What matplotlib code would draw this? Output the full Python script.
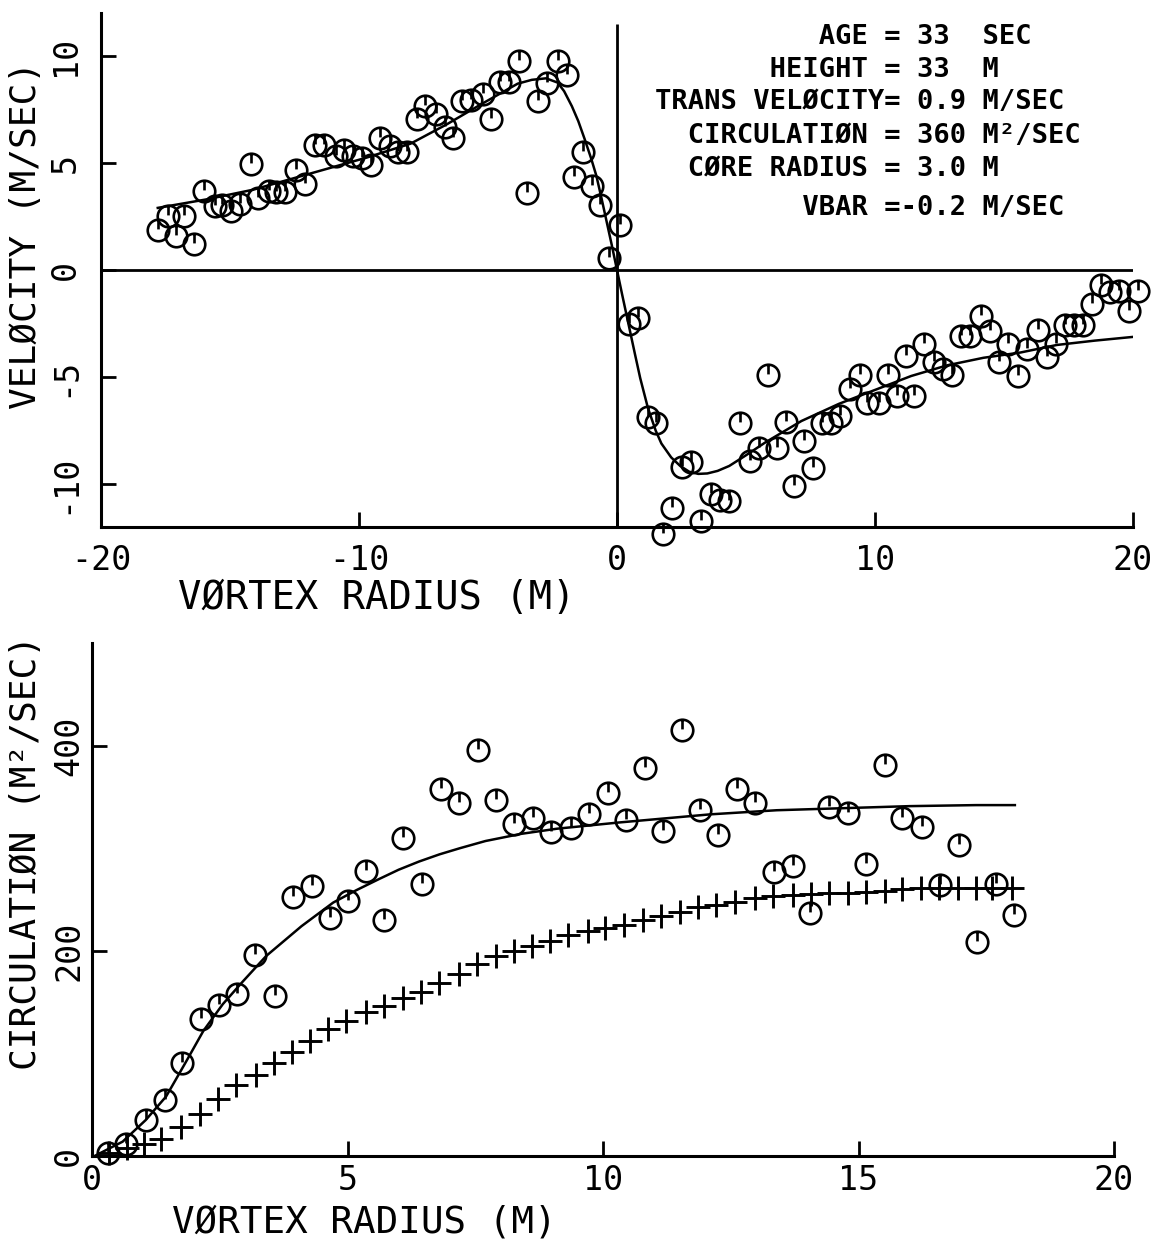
import numpy as np
import matplotlib
matplotlib.use("Agg")
import matplotlib.pyplot as plt
from matplotlib.path import Path

# ---- top panel: tangential velocity across the vortex ----
vel_radius = [-17.8, -17.4, -17.1, -16.8, -16.4, -16.0, -15.6, -15.3, -14.95, -14.6,
              -14.2, -13.9, -13.5, -13.2, -12.85, -12.45, -12.1, -11.7, -11.35, -10.9,
              -10.6, -10.25, -9.9, -9.55, -9.2, -8.8, -8.5, -8.15, -7.75, -7.45,
              -7.0, -6.65, -6.35, -6.0, -5.65, -5.2, -4.9, -4.55, -4.2, -3.8,
              -3.5, -3.05, -2.7, -2.3, -1.95, -1.65, -1.3, -0.95, -0.65, -0.3,
              0.1, 0.45, 0.8, 1.2, 1.5, 1.8, 2.15, 2.5, 2.85, 3.25,
              3.65, 4.0, 4.35, 4.75, 5.15, 5.5, 5.85, 6.2, 6.55, 6.85,
              7.25, 7.6, 7.95, 8.3, 8.65, 9.05, 9.4, 9.7, 10.15, 10.5,
              10.85, 11.5, 11.2, 11.9, 12.3, 12.65, 13.0, 13.35, 13.7, 14.1,
              14.45, 14.8, 15.15, 15.55, 15.9, 16.3, 16.65, 17.0, 17.35, 17.7,
              18.05, 18.4, 18.75, 19.1, 19.45, 19.85, 20.2]
vel_speed = [1.85, 2.5, 1.6, 2.5, 1.2, 3.7, 3.0, 3.05, 2.75, 3.1,
             4.95, 3.35, 3.7, 3.65, 3.65, 4.65, 4.0, 5.85, 5.85, 5.3,
             5.6, 5.3, 5.25, 4.9, 6.15, 5.8, 5.5, 5.5, 7.05, 7.65,
             7.3, 6.7, 6.15, 7.9, 7.95, 8.2, 7.05, 8.8, 8.8, 9.75,
             3.6, 7.9, 8.75, 9.75, 9.1, 4.35, 5.5, 3.9, 3.05, 0.55,
             2.1, -2.5, -2.25, -6.85, -7.15, -12.35, -11.1, -9.2, -8.95, -11.7,
             -10.45, -10.75, -10.8, -7.15, -8.9, -8.3, -4.9, -8.3, -7.1, -10.1,
             -8.0, -9.25, -7.15, -7.15, -6.8, -5.55, -4.9, -6.2, -6.2, -4.9,
             -5.9, -5.9, -4.0, -3.45, -4.3, -4.6, -4.9, -3.1, -3.1, -2.15,
             -2.85, -4.3, -3.45, -4.95, -3.7, -2.8, -4.05, -3.45, -2.55, -2.55,
             -2.55, -1.6, -0.7, -1.05, -1.0, -1.9, -1.0]
vel_fit_radius = [-17.8, -15.9, -14.1, -11.9, -9.7, -8.0, -6.6, -5.25, -3.85, -3.3,
                  -2.75, -2.3, -2.05, -1.75, -1.5, -1.25, -1.0, -0.8, -0.6, -0.4,
                  -0.2, 0.0, 0.2, 0.45, 0.7, 0.9, 1.2, 1.5, 1.72, 2.1,
                  2.45, 2.8, 3.15, 3.5, 3.9, 4.35, 5.0, 5.75, 7.15, 8.6,
                  10.0, 11.4, 12.8, 14.2, 15.65, 17.05, 18.5, 20.2]
vel_fit_speed = [2.9, 3.3, 3.75, 4.5, 5.25, 5.9, 6.8, 7.75, 8.7, 8.88,
                 8.95, 8.75, 8.35, 7.65, 6.95, 6.1, 5.2, 4.4, 3.35, 2.25,
                 1.15, 0.0, -1.15, -2.55, -3.95, -5.05, -6.45, -7.5, -8.1, -8.75,
                 -9.15, -9.42, -9.52, -9.5, -9.38, -9.15, -8.65, -8.05, -7.05, -6.25,
                 -5.6, -4.95, -4.45, -4.1, -3.85, -3.5, -3.3, -3.1]

# ---- bottom panel: circulation vs radius ----
circ_radius = [0.32, 0.67, 1.06, 1.42, 1.77, 2.13, 2.48, 2.84, 3.19, 3.59,
               3.93, 4.31, 4.65, 5.01, 5.37, 5.72, 6.09, 6.46, 6.83, 7.19,
               7.55, 7.90, 8.26, 8.63, 8.99, 9.38, 9.73, 10.10, 10.45, 10.83,
               11.17, 11.55, 11.89, 12.26, 12.62, 12.98, 13.34, 13.71, 14.06, 14.42,
               14.80, 15.14, 15.51, 15.86, 16.24, 16.59, 16.96, 17.32, 17.69, 18.05]
circ_value = [3, 12, 35, 55, 91, 134, 147, 158, 196, 156,
              252, 263, 232, 249, 278, 230, 310, 265, 358, 344,
              396, 347, 324, 329, 316, 320, 333, 354, 327, 378,
              317, 415, 337, 313, 358, 344, 277, 283, 237, 340,
              334, 285, 381, 329, 321, 264, 303, 209, 265, 235]
cross_radius = [0.33, 0.68, 1.01, 1.36, 1.75, 2.11, 2.46, 2.82, 3.20, 3.56,
                3.92, 4.27, 4.62, 4.97, 5.36, 5.71, 6.08, 6.44, 6.79, 7.18,
                7.54, 7.90, 8.26, 8.61, 8.97, 9.32, 9.71, 10.04, 10.42, 10.79,
                11.14, 11.50, 11.86, 12.22, 12.58, 12.97, 13.32, 13.71, 14.07, 14.43,
                14.79, 15.15, 15.51, 15.86, 16.22, 16.58, 16.94, 17.30, 17.62, 18.01]
cross_value = [3, 8, 11.5, 16.5, 28, 41, 56, 69, 79, 91,
               101, 112, 124, 132, 140, 146, 154, 160, 169, 177,
               187, 195, 200, 205, 210, 215, 219, 222, 225.5, 230.5,
               234, 237.5, 242.5, 244.5, 247.5, 251, 253.5, 254.5, 255, 256,
               256.5, 257.5, 258.5, 260.5, 261, 261, 261, 261, 261.5, 261.5]
circ_fit_radius = [0.05, 0.6, 1.05, 1.45, 1.83, 2.18, 2.56, 2.95, 3.41, 4.10,
                   4.72, 5.17, 5.62, 6.0, 6.4, 6.8, 7.2, 7.7, 8.4, 9.1,
                   10.3, 12.1, 13.4, 14.7, 16.0, 17.3, 18.06]
circ_fit_value = [0, 14, 35, 58, 91, 122, 148, 170, 195, 224,
                  247, 259, 270, 279, 287, 294, 300, 307, 314, 319,
                  325, 333, 337, 339, 341, 342, 342]

info_lines = ["          AGE = 33  SEC",
              "       HEIGHT = 33  M",
              "TRANS VEL\u00d8CITY= 0.9 M/SEC",
              "  CIRCULATI\u00d8N = 360 M\u00b2/SEC",
              "  C\u00d8RE RADIUS = 3.0 M",
              "         VBAR =-0.2 M/SEC"]
info_y = [37, 70, 102, 136, 169, 208]

W, H = 1153, 1244
plt.rcParams["font.family"] = "DejaVu Sans Mono"
plt.rcParams["axes.unicode_minus"] = False

fig = plt.figure(figsize=(W / 100, H / 100), dpi=100)


def px(x, y):
    return x / W, 1 - y / H


# circle with a little tick from the top, like the old plotter symbol
uc = Path.unit_circle()
tick_circle = Path(np.concatenate([uc.vertices, [[0, 1], [0, 0.1]]]),
                   np.concatenate([uc.codes, [Path.MOVETO, Path.LINETO]]))
circ_style = dict(ls="none", marker=tick_circle, ms=15.5, mfc="none",
                  mec="k", mew=1.9, clip_on=False, zorder=3)


def style(ax):
    for s in ("top", "right"):
        ax.spines[s].set_visible(False)
    for s in ("left", "bottom"):
        ax.spines[s].set_linewidth(2.2)
    ax.tick_params(direction="in", length=11, width=2, labelsize=24)


# --- top panel ---
ax1 = fig.add_axes([101 / W, 1 - 527 / H, 1032 / W, 514 / H])
style(ax1)
ax1.set_xlim(-20, 20)
ax1.set_ylim(-12, 12)
ax1.set_xticks([-20, -10, 0, 10, 20])
ax1.set_yticks([-10, -5, 0, 5, 10])
ax1.tick_params(axis="x", pad=12)
ax1.tick_params(axis="y", pad=14, labelrotation=90)
plt.setp(ax1.get_yticklabels(), va="center")
ax1.axhline(0, color="k", lw=2)
ax1.vlines(0, -12, 11.5, color="k", lw=2)
ax1.plot(vel_fit_radius, vel_fit_speed, color="k", lw=1.8)
ax1.plot(vel_radius, vel_speed, **circ_style)

# --- bottom panel ---
ax2 = fig.add_axes([92 / W, 1 - 1156 / H, 1022 / W, 513 / H])
style(ax2)
ax2.set_xlim(0, 20)
ax2.set_ylim(0, 500)
ax2.set_xticks([0, 5, 10, 15, 20])
ax2.set_yticks([0, 200, 400])
ax2.tick_params(axis="x", pad=6)
ax2.tick_params(axis="y", pad=5, labelrotation=90)
plt.setp(ax2.get_yticklabels(), va="center")
ax2.plot(circ_fit_radius, circ_fit_value, color="k", lw=1.8)
ax2.plot(cross_radius, cross_value, ls="none", marker="+", ms=17, mew=2.1,
         color="k", clip_on=False)
ax2.plot(circ_radius, circ_value, **circ_style)

# --- labels ---
fig.text(*px(178, 598), "V\u00d8RTEX RADIUS (M)", fontsize=28, ha="left", va="center")
fig.text(*px(172, 1222), "V\u00d8RTEX RADIUS (M)", fontsize=27, ha="left", va="center")
fig.text(*px(26, 235), "VEL\u00d8CITY (M/SEC)", fontsize=26, rotation=90,
         ha="center", va="center")
fig.text(*px(26, 852), "CIRCULATI\u00d8N (M\u00b2/SEC)", fontsize=26, rotation=90,
         ha="center", va="center")
for line, y in zip(info_lines, info_y):
    fig.text(*px(655, y), line, fontsize=19.5, fontweight="bold",
             ha="left", va="center")

fig.savefig("out.png", dpi=100)
